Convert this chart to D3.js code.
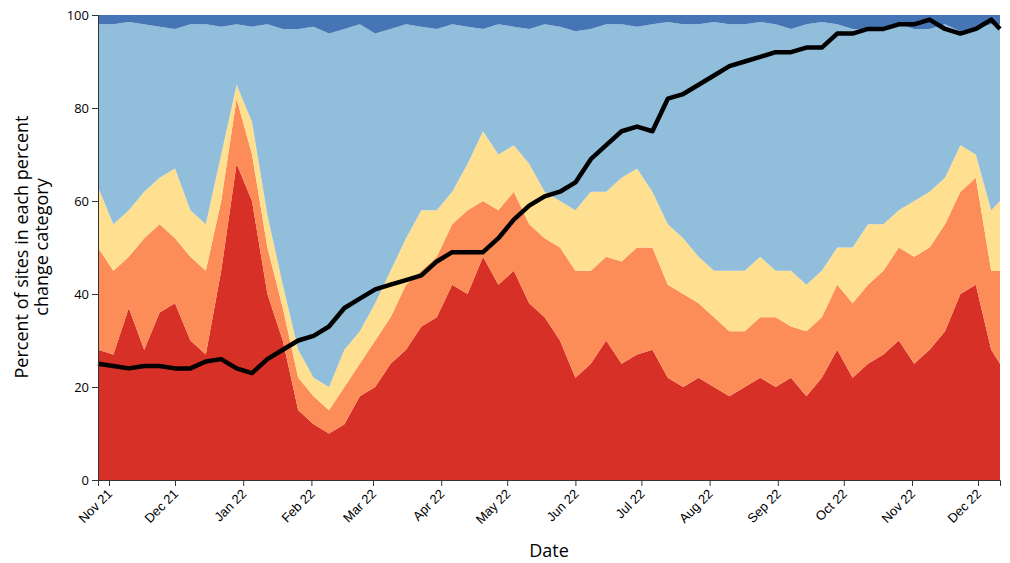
<!DOCTYPE html>
<html><head><meta charset="utf-8">
<script src="https://cdn.jsdelivr.net/npm/d3@7"></script>
<style>body{margin:0;background:#fff}</style>
</head><body><svg id="chart" width="1010" height="563"></svg>
<script>
// weekly dates starting Oct 27 2021
var startDate = new Date(2021, 9, 27);
var dates = d3.range(59).map(i => d3.timeDay.offset(startDate, i * 7));
dates.push(new Date(2022, 11, 11));

// cumulative top of each category (percent)
var redTop = [28,27,37,28,36,38,30,27,45,68,60,40,30,15,12,10,12,18,20,25,28,33,35,42,40,48,42,45,38,35,30,22,25,30,25,27,28,22,20,22,20,18,20,22,20,22,18,22,28,22,25,27,30,25,28,32,40,42,28,25];
var orangeTop = [50,45,48,52,55,52,48,45,60,82,70,50,37,22,18,15,20,25,30,35,42,45,48,55,58,60,58,62,55,52,50,45,45,48,47,50,50,42,40,38,35,32,32,35,35,33,32,35,42,38,42,45,50,48,50,55,62,65,45,45];
var yellowTop = [63,55,58,62,65,67,58,55,70,85,77,57,42,28,22,20,28,32,38,45,52,58,58,62,68,75,70,72,68,62,60,58,62,62,65,67,62,55,52,48,45,45,45,48,45,45,42,45,50,50,55,55,58,60,62,65,72,70,58,60];
var blueTop = [98,98,98.5,98,97.5,97,98,98,97.5,98,97.5,98,97,97,97.5,96,97,98,96,97,98,97.5,97,98,97.5,97,98,97.5,97,98,97.5,96.5,97,98,98,97.5,98,98.5,98,98,98.5,98,98,98.5,98,97,98,98.5,98,97,97,97.5,98,97,97,98,96.5,97,98,98];
var lineVals = [25,24.5,24,24.5,24.5,24,24,25.5,26,24,23,26,28,30,31,33,37,39,41,42,43,44,47,49,49,49,52,56,59,61,62,64,69,72,75,76,75,82,83,85,87,89,90,91,92,92,93,93,96,96,97,97,98,98,99,97,96,97,99,97];

var yTicks = [0, 20, 40, 60, 80, 100];
var colors = ["#d73027", "#fc8d59", "#fee090", "#91bfdb", "#4575b4"];

var margin = {top: 15, right: 10, bottom: 83, left: 98};
var W = 1010 - margin.left - margin.right, H = 563 - margin.top - margin.bottom;
var svg = d3.select("#chart");
var g = svg.append("g").attr("transform", `translate(${margin.left},${margin.top})`);

var x = d3.scaleTime().domain([dates[0], dates[dates.length - 1]]).range([0, W]);
var y = d3.scaleLinear().domain([0, 100]).range([H, 0]);

var zeros = dates.map(() => 0), hundreds = dates.map(() => 100);
var bounds = [zeros, redTop, orangeTop, yellowTop, blueTop, hundreds];
for (var k = 0; k < 5; k++) {
  var lo = bounds[k], hi = bounds[k + 1];
  var area = d3.area().x((d, i) => x(dates[i])).y0((d, i) => y(lo[i])).y1((d, i) => y(hi[i]));
  g.append("path").datum(dates).attr("d", area).attr("fill", colors[k]);
}

var line = d3.line().x((d, i) => x(dates[i])).y(d => y(d));
g.append("path").datum(lineVals).attr("d", line).attr("fill", "none")
  .attr("stroke", "#000").attr("stroke-width", 4.5).attr("stroke-linejoin", "round");

var xAxis = g.append("g").attr("transform", `translate(0,${H})`)
  .call(d3.axisBottom(x).ticks(d3.timeMonth.every(1)).tickFormat(d3.timeFormat("%b %y")));
xAxis.selectAll("text").attr("transform", "rotate(-45)").style("text-anchor", "end")
  .attr("dx", "-0.6em").attr("dy", "0.3em").style("font-family", "Arial, Liberation Sans").style("font-size", "13px");

var yAxis = g.append("g").call(d3.axisLeft(y).tickValues(yTicks));
yAxis.selectAll("text").style("font-family", "Open Sans").style("font-size", "13px");
svg.selectAll(".domain, .tick line").attr("stroke", "#333");

svg.append("text").attr("x", margin.left + W / 2).attr("y", 557).attr("text-anchor", "middle")
  .style("font-family", "Open Sans").style("font-size", "18px").text("Date");
var yl = svg.append("text").attr("transform", "translate(28,247) rotate(-90)").attr("text-anchor", "middle")
  .style("font-family", "Open Sans").style("font-size", "18px");
yl.append("tspan").attr("x", 0).attr("dy", 0).text("Percent of sites in each percent");
yl.append("tspan").attr("x", 0).attr("dy", "1.1em").text("change category");
</script></body></html>
